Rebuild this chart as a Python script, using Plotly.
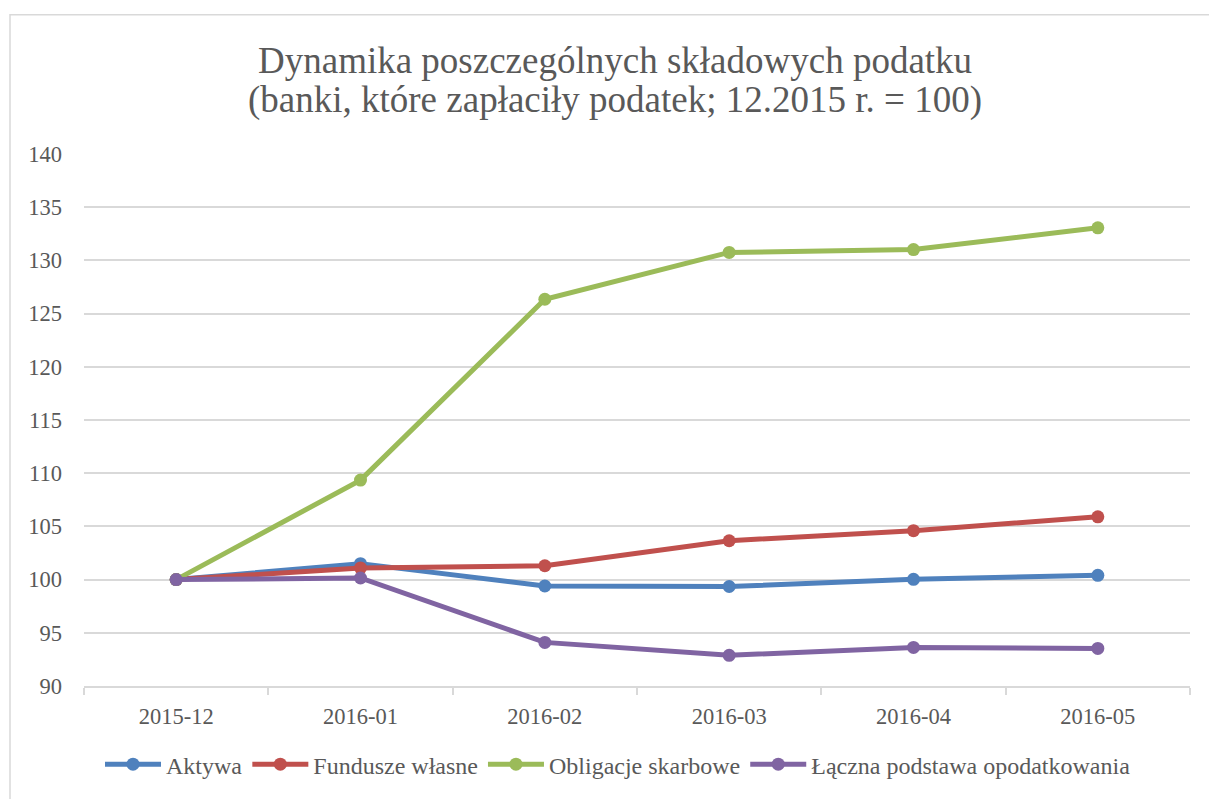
import plotly.graph_objects as go

months = ["2015-12", "2016-01", "2016-02", "2016-03", "2016-04", "2016-05"]
aktywa = [100.0, 101.5, 99.4, 99.35, 100.03, 100.4]
fundusze = [100.0, 101.1, 101.3, 103.65, 104.6, 105.9]
obligacje = [100.0, 109.35, 126.35, 130.75, 131.02, 133.06]
laczna = [100.0, 100.15, 94.1, 92.88, 93.63, 93.53]

series_names = ["Aktywa", "Fundusze własne", "Obligacje skarbowe", "Łączna podstawa opodatkowania"]
series_values = [aktywa, fundusze, obligacje, laczna]
colors = ["#4F81BD", "#C0504D", "#9BBB59", "#8064A2"]

title_line1 = "Dynamika poszczególnych składowych podatku"
title_line2 = "(banki, które zapłaciły podatek; 12.2015 r. = 100)"

FONT = "Liberation Serif"
TXT = "#595959"
GRID = "#D9D9D9"

fig = go.Figure()
for i, (name, vals, col) in enumerate(zip(series_names, series_values, colors)):
    fig.add_trace(go.Scatter(
        x=months, y=vals, name=name, mode="lines+markers",
        line=dict(color=col, width=5),
        marker=dict(color=col, size=13),
        legendgroup=f"g{i}",
    ))

W, H = 1209, 799
L, R, T, B = 84, 19, 154, 110
pw, ph = W - L - R, H - T - B

def px_x(X):
    return (X - L) / pw

def px_y(Y):
    return (H - B - Y) / ph

fig.update_layout(
    width=W, height=H,
    margin=dict(l=L, r=R, t=T, b=B),
    paper_bgcolor="white", plot_bgcolor="white",
    font=dict(family=FONT, color=TXT, size=22),
    showlegend=True,
    legend=dict(
        orientation="h", x=px_x(618), xanchor="center",
        y=px_y(768), yanchor="middle",
        font=dict(size=24, color=TXT, family=FONT),
        itemwidth=56, traceorder="normal", tracegroupgap=30,
    ),
    xaxis=dict(
        type="category", range=[-0.5, 5.5],
        showgrid=False, showline=True, linecolor=GRID, linewidth=1.5,
        ticks="outside", tickson="boundaries", ticklen=7, tickcolor=GRID, tickwidth=1.5,
        tickfont=dict(size=22.5, color=TXT, family=FONT),
        ticklabelstandoff=9,
        zeroline=False,
    ),
    yaxis=dict(
        range=[90, 140], dtick=5, tick0=90,
        showgrid=True, gridcolor=GRID, gridwidth=1.5,
        showline=False, zeroline=False, ticks="",
        tickfont=dict(size=22.5, color=TXT, family=FONT),
        ticklabelstandoff=21,
    ),
    annotations=[
        dict(text=title_line1, xref="paper", yref="paper", x=px_x(615), y=px_y(60),
             xanchor="center", yanchor="middle", showarrow=False,
             font=dict(size=37, color=TXT, family=FONT)),
        dict(text=title_line2, xref="paper", yref="paper", x=px_x(615), y=px_y(100),
             xanchor="center", yanchor="middle", showarrow=False,
             font=dict(size=37, color=TXT, family=FONT)),
    ],
    shapes=[
        dict(type="rect", xref="paper", yref="paper",
             x0=px_x(10), x1=px_x(1215), y0=px_y(805), y1=px_y(14),
             line=dict(color=GRID, width=1.5), fillcolor="rgba(0,0,0,0)", layer="below"),
    ],
)

fig.write_html("out.html", config={"displayModeBar": False},
               post_script="document.body.style.margin='0';document.body.style.overflow='hidden';")
